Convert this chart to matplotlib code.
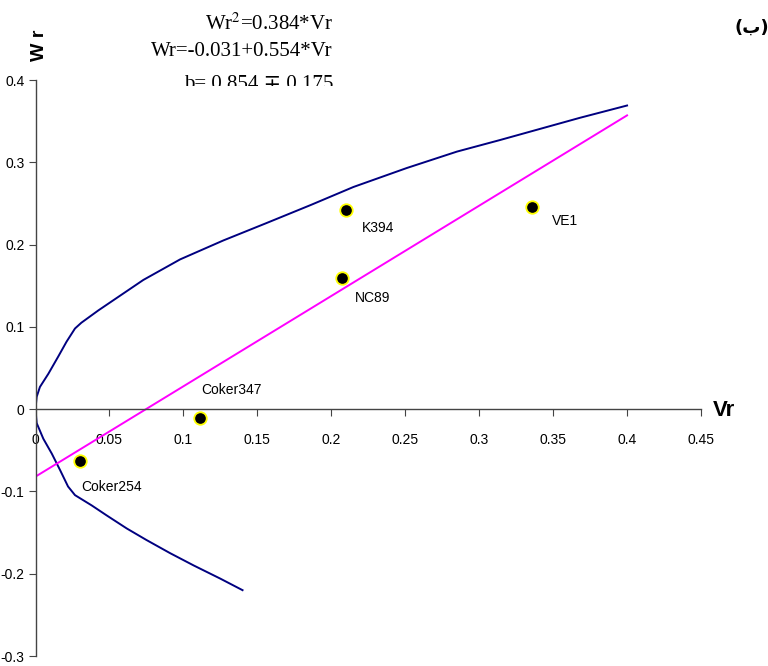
import numpy as np
import matplotlib
matplotlib.use('Agg')
import matplotlib.pyplot as plt
from matplotlib.patches import Rectangle

# genotypes (Vr, Wr)
names = ['K394', 'VE1', 'NC89', 'Coker347', 'Coker254']
vr = [0.210, 0.336, 0.207, 0.111, 0.030]
wr = [0.242, 0.246, 0.159, -0.011, -0.063]

# limiting parabola, upper and lower branch
par_up_x = [0, 0.0008, 0.003, 0.0087, 0.0154, 0.021, 0.0267, 0.031, 0.0425, 0.0729, 0.0978,
            0.127, 0.156, 0.186, 0.215, 0.251, 0.285, 0.314, 0.346, 0.368, 0.400]
par_up_y = [0, 0.015, 0.027, 0.043, 0.064, 0.082, 0.098, 0.105, 0.120, 0.157, 0.182,
            0.205, 0.226, 0.248, 0.270, 0.293, 0.313, 0.327, 0.343, 0.354, 0.369]
par_lo_x = [0, 0.0008, 0.0053, 0.011, 0.0166, 0.022, 0.0267, 0.038, 0.048, 0.0617, 0.075,
            0.091, 0.107, 0.125, 0.140]
par_lo_y = [0, -0.017, -0.036, -0.054, -0.074, -0.094, -0.1045, -0.117, -0.129, -0.145, -0.159,
            -0.175, -0.190, -0.206, -0.220]

# regression line end points
reg_x = [0, 0.400]
reg_y = [-0.082, 0.357]

xticks = [0, 0.05, 0.1, 0.15, 0.2, 0.25, 0.3, 0.35, 0.4, 0.45]
xtick_labels = ['0', '0.05', '0.1', '0.15', '0.2', '0.25', '0.3', '0.35', '0.4', '0.45']
yticks = [-0.3, -0.2, -0.1, 0, 0.1, 0.2, 0.3, 0.4]
ytick_labels = ['-0.3', '-0.2', '-0.1', '0', '0.1', '0.2', '0.3', '0.4']

narrow = ['Liberation Sans Narrow', 'Liberation Sans', 'DejaVu Sans']
serif = ['Liberation Serif', 'DejaVu Serif']

fig = plt.figure(figsize=(7.68, 6.66), dpi=100)
ax = fig.add_axes([35.5 / 768, 1 - 656 / 666, (701 - 35.5) / 768, (656 - 80) / 666])

ax.plot(par_up_x, par_up_y, color='#000080', lw=1.4)
ax.plot(par_lo_x, par_lo_y, color='#000080', lw=1.4)
ax.plot(reg_x, reg_y, color='#ff00ff', lw=1.4)
ax.plot(vr, wr, 'o', color='black', mec='#ffff00', mew=1.3, ms=9, ls='none', zorder=5)

offs = {'K394': (0.011, -0.022), 'VE1': (0.013, -0.017), 'NC89': (0.009, -0.024),
        'Coker347': (0.001, 0.034), 'Coker254': (0.001, -0.032)}
for n, x, y in zip(names, vr, wr):
    dx, dy = offs[n]
    ax.text(x + dx, y + dy, n, fontsize=10, family=narrow, va='center', ha='left')

ax.set_xlim(0, 0.45)
ax.set_ylim(-0.3, 0.4)
ax.spines['left'].set_position(('data', 0))
ax.spines['bottom'].set_position(('data', 0))
ax.spines['top'].set_visible(False)
ax.spines['right'].set_visible(False)
for s in ['left', 'bottom']:
    ax.spines[s].set_color('#444444')
    ax.spines[s].set_linewidth(1.0)

ax.set_xticks(xticks)
ax.set_xticklabels(xtick_labels, family=narrow, fontsize=10)
ax.set_yticks(yticks)
ax.set_yticklabels(ytick_labels, family=narrow, fontsize=10)
ax.tick_params(axis='x', direction='out', length=5, color='#444444', pad=12)
ax.tick_params(axis='y', direction='out', length=5, color='#444444', pad=3)

fig.text(713 / 768, 1 - 410 / 666, 'Vr', fontsize=16, fontweight='bold', family=narrow, ha='left', va='center')
fig.text(40 / 768, 1 - 45 / 666, 'W r', fontsize=14, fontweight='bold', family=narrow,
         rotation=90, ha='center', va='center')

fig.text(333 / 768, 1 - 30 / 666, 'Wr$^2$=0.384*Vr', fontsize=15, family=serif, ha='right', va='baseline',
         math_fontfamily='stix')
fig.text(333 / 768, 1 - 56 / 666, 'Wr=-0.031+0.554*Vr', fontsize=15, family=serif, ha='right', va='baseline')
t = fig.text(333 / 768, 1 - 89 / 666, 'b= 0.854 \u2213 0.175', fontsize=15, family=serif, ha='right',
             va='baseline')
clip = Rectangle((0, 1 - 86 / 666), 1, 86 / 666, transform=fig.transFigure, visible=False)
fig.add_artist(clip)
t.set_clip_path(clip)

fig.text(752 / 768, 1 - 28 / 666, '(\u0628)', fontsize=13, fontweight='bold', family='DejaVu Sans',
         ha='center', va='center')

fig.savefig('out.png', dpi=100)
